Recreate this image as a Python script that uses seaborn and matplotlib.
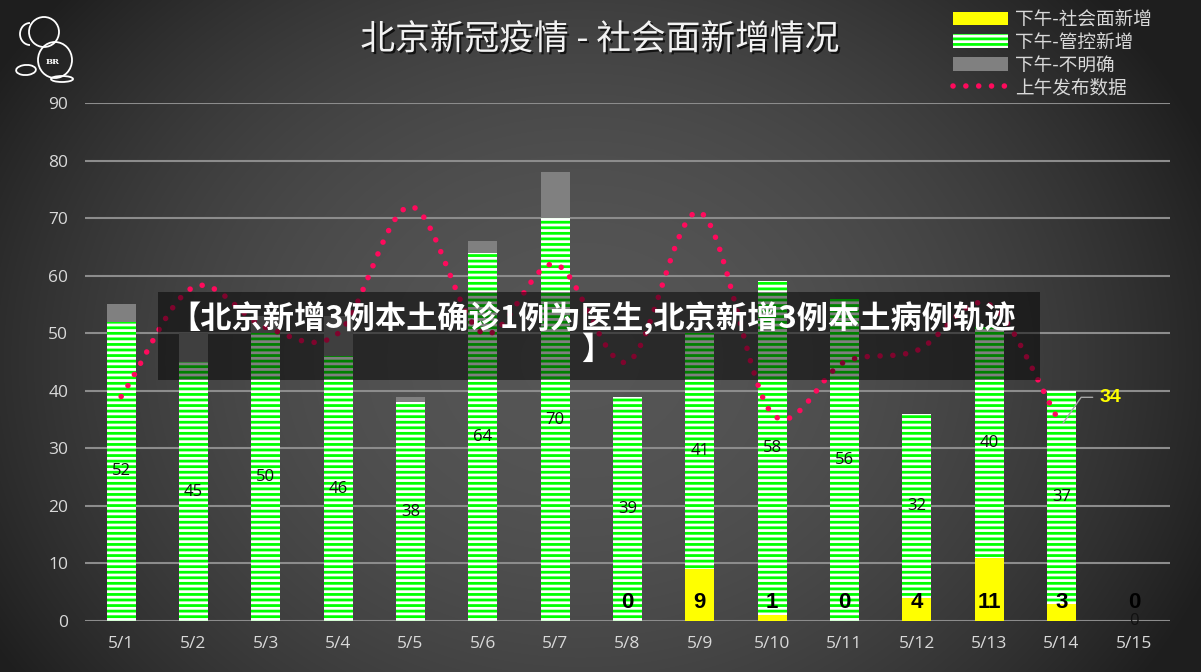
import numpy as np
import pandas as pd
import matplotlib
matplotlib.use("Agg")
import matplotlib.pyplot as plt
import seaborn as sns
from matplotlib.patches import Patch, Rectangle, Ellipse, Arc
from matplotlib.lines import Line2D
import matplotlib.patheffects as pe

# ---------------- data ----------------
dates = ["5/1", "5/2", "5/3", "5/4", "5/5", "5/6", "5/7", "5/8",
         "5/9", "5/10", "5/11", "5/12", "5/13", "5/14", "5/15"]
social = [np.nan] * 7 + [0, 9, 1, 0, 4, 11, 3, 0]          # 下午-社会面新增
controlled = [52, 45, 50, 46, 38, 64, 70, 39, 41, 58, 56, 32, 40, 37, 0]  # 下午-管控新增
unclear = [3, 5, 3, 7, 1, 2, 8, 0, 0, 0, 0, 0, 0, 0, 0]     # 下午-不明确
morning = [39, 58, 51, 50, 72, 50, 62, 45, 71, 36, 45, 47, 55, 34]  # 上午发布数据
y_ticks = list(range(0, 100, 10))
title = "北京新冠疫情 - 社会面新增情况"
legend_labels = ["下午-社会面新增", "下午-管控新增", "下午-不明确", "上午发布数据"]
banner_line1 = "【北京新增3例本土确诊1例为医生,北京新增3例本土病例轨迹"
banner_line2 = "】"
logo_text = "BR"

# ---------------- style ----------------
plt.rcParams['font.family'] = ['Noto Sans CJK SC', 'DejaVu Sans']
plt.rcParams['hatch.linewidth'] = 2.0
plt.rcParams['hatch.color'] = 'white'

YELLOW = '#ffff00'
GREEN = '#00ff00'
GRAY = '#808080'
PINK = '#ff0a5c'
TXT = '#d9d9d9'

W, H = 1201, 672
fig = plt.figure(figsize=(W / 100, H / 100), dpi=100)

# background radial gradient
bg = fig.add_axes([0, 0, 1, 1], zorder=-10)
yy, xx = np.mgrid[0:H, 0:W]
d2 = ((xx - 580) / 680.0) ** 2 + ((yy - 360) / 560.0) ** 2
lum = 0.12 + 0.215 * (1 - np.clip(d2, 0, 1))
bg.imshow(np.dstack([lum, lum, lum]), aspect='auto', extent=[0, 1, 0, 1])
bg.axis('off')

ax = fig.add_axes([85 / W, 51 / H, 1085 / W, 518 / H])
ax.set_facecolor('none')

soc0 = np.nan_to_num(np.array(social, dtype=float))
df = pd.DataFrame({
    'date': dates,
    'social': soc0,
    'green_top': soc0 + np.array(controlled),
    'total': soc0 + np.array(controlled) + np.array(unclear),
})

common = dict(x='date', width=0.4, saturation=1, errorbar=None, ax=ax, linewidth=0)
sns.barplot(data=df, y='total', color=GRAY, **common)
sns.barplot(data=df, y='green_top', color=GREEN, hatch='---', edgecolor='white', **common)
sns.barplot(data=df, y='social', color=YELLOW, **common)


# smoothed morning line (Catmull-Rom through the data points)
def smooth(yv, n=40):
    yv = np.asarray(yv, dtype=float)
    m = len(yv)
    t = np.zeros(m)
    t[1:-1] = (yv[2:] - yv[:-2]) / 2
    t[0] = yv[1] - yv[0]
    t[-1] = yv[-1] - yv[-2]
    xs, ys = [], []
    for i in range(m - 1):
        s = np.linspace(0, 1, n, endpoint=(i == m - 2))
        h00 = 2 * s**3 - 3 * s**2 + 1
        h10 = s**3 - 2 * s**2 + s
        h01 = -2 * s**3 + 3 * s**2
        h11 = s**3 - s**2
        xs.append(i + s)
        ys.append(h00 * yv[i] + h10 * t[i] + h01 * yv[i + 1] + h11 * t[i + 1])
    return np.concatenate(xs), np.concatenate(ys)


sx, sy = smooth(morning)
dot_style = dict(color=PINK, lw=4.0, linestyle=(0, (0.01, 2.3)), dash_capstyle='round')
sns.lineplot(x=sx, y=sy, ax=ax, sort=False, estimator=None, zorder=4, **dot_style)

# value labels
for i in range(len(dates)):
    ax.text(i, soc0[i] + controlled[i] / 2, str(controlled[i]), ha='center', va='center',
            fontsize=12, color='#111111', family='Open Sans', zorder=5)
    if not np.isnan(social[i]):
        ax.annotate(str(int(social[i])), xy=(i, 0), xytext=(0, 19), textcoords='offset pixels',
                    ha='center', va='center', fontsize=16, fontweight='bold', color='black',
                    family='Liberation Sans', zorder=5)

ax.annotate(str(morning[-1]), xy=(len(morning) - 1, morning[-1]), xytext=(49, 28),
            textcoords='offset pixels', ha='center', va='center', fontsize=14,
            fontweight='bold', color=YELLOW, family='Liberation Sans',
            arrowprops=dict(arrowstyle='-', color='#a6a6a6', lw=1,
                            connectionstyle='angle,angleA=0,angleB=55', shrinkA=3, shrinkB=2))

ax.set_xlim(-0.5, len(dates) - 0.5)
ax.set_ylim(0, 90)
ax.set_yticks(y_ticks)
ax.set_xlabel('')
ax.set_ylabel('')
ax.yaxis.grid(True, color='#8c8c8c', lw=1.5)
ax.xaxis.grid(False)
ax.set_axisbelow(True)
for s in ax.spines.values():
    s.set_visible(False)
ax.tick_params(axis='y', length=0, pad=12, labelcolor=TXT, labelsize=12.5)
ax.tick_params(axis='x', length=0, pad=11, labelcolor=TXT, labelsize=12.5)
for lab in ax.get_xticklabels() + ax.get_yticklabels():
    lab.set_family('Open Sans')

# title
fig.text(600 / W, 1 - 40 / H, title, ha='center', va='center', fontsize=25, color='#f2f2f2',
         path_effects=[pe.withSimplePatchShadow(offset=(1.5, -1.5), shadow_rgbFace='black', alpha=0.7)])

# legend
handles = [Patch(facecolor=YELLOW, linewidth=0),
           Patch(facecolor=GREEN, edgecolor='white', hatch='---', linewidth=0),
           Patch(facecolor=GRAY, linewidth=0),
           Line2D([0], [0], **dot_style)]
fig.legend(handles, legend_labels, loc='upper left', bbox_to_anchor=(940 / W, 1 + 2 / H),
           frameon=False, fontsize=13.4, labelcolor=TXT, handlelength=2.95, handleheight=0.75,
           labelspacing=0.25, handletextpad=0.4, borderpad=0.2)

# overlay banner
fig.patches.append(Rectangle((158 / W, 1 - 380 / H), 882 / W, 88 / H, transform=fig.transFigure,
                             facecolor='black', alpha=0.5, zorder=5))
fig.text(593 / W, 1 - 318 / H, banner_line1, ha='center', va='center', fontsize=22.5,
         fontweight='bold', color='white', zorder=6)
fig.text(597 / W, 1 - 350 / H, banner_line2, ha='center', va='center', fontsize=22.5,
         fontweight='bold', color='white', zorder=6)


# simple line-art logo (top left)
def px(x, y):
    return (x / W, 1 - y / H)


logo_kw = dict(transform=fig.transFigure, fill=False, edgecolor='white', lw=1.3)
fig.patches.append(Ellipse(px(44, 32), 30 / W, 30 / H, **logo_kw))
fig.patches.append(Ellipse(px(55, 60), 34 / W, 36 / H, **logo_kw))
fig.patches.append(Arc(px(30, 34), 20 / W, 22 / H, theta1=90, theta2=270, **logo_kw))
fig.patches.append(Ellipse(px(26, 70), 20 / W, 10 / H, angle=20, **logo_kw))
fig.patches.append(Ellipse(px(62, 79), 22 / W, 6 / H, **logo_kw))
fig.text(53 / W, 1 - 62 / H, logo_text, ha='center', va='center', fontsize=6,
         fontweight='bold', color='white', family='DejaVu Serif')

fig.savefig('out.png', dpi=100, facecolor='#2a2a2a')
